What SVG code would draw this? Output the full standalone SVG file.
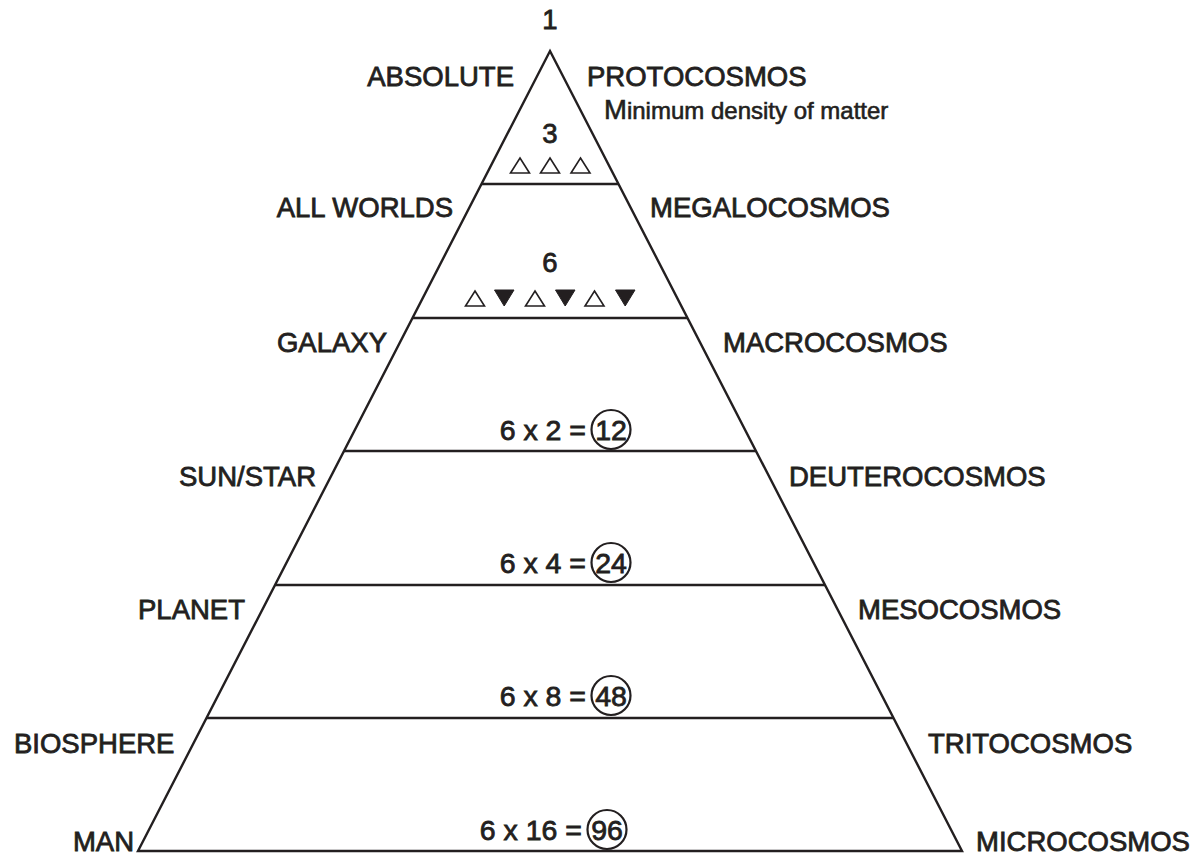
<svg xmlns="http://www.w3.org/2000/svg" width="1202" height="861" viewBox="0 0 1202 861">
<style>
text{font-family:"Liberation Sans",Arial,sans-serif;fill:#231f20;stroke:#231f20;stroke-width:0.8;font-size:27.5px}
.eq{font-size:28.5px}
.c{text-anchor:middle}
.e{text-anchor:end}
.ln{stroke:#231f20;stroke-width:2.4;fill:none}
.ring{stroke:#231f20;stroke-width:2.2;fill:none}
.up{fill:none;stroke:#231f20;stroke-width:1.6;stroke-linejoin:miter}
.dn{fill:#231f20;stroke:#231f20;stroke-width:1}
</style>
<rect width="1202" height="861" fill="#fff"/>
<g id="pyramid">
<polygon class="ln" points="550,51 962,851 138,851" stroke-linejoin="miter"/>
</g>
<g id="connectors">
<line class="ln" x1="481.5" y1="184" x2="618.5" y2="184"/>
<line class="ln" x1="412.5" y1="318" x2="687.5" y2="318"/>
<line class="ln" x1="344" y1="451" x2="756" y2="451"/>
<line class="ln" x1="275" y1="585" x2="825" y2="585"/>
<line class="ln" x1="206" y1="718" x2="894" y2="718"/>
</g>
<g id="level1">
<text class="c" x="550" y="29">1</text>
<text class="e" x="514" y="86">ABSOLUTE</text>
<text x="587" y="86">PROTOCOSMOS</text>
<text x="604" y="119" style="font-size:24px;stroke-width:0.6"><tspan style="font-size:27.5px">M</tspan>inimum density of matter</text>
</g>
<g id="level3">
<text class="c" x="550" y="143">3</text>
<polygon class="up" points="520,158 529.5,173 510.5,173"/>
<polygon class="up" points="550,158 559.5,173 540.5,173"/>
<polygon class="up" points="580.5,158 590,173 571,173"/>
<text class="e" x="453" y="217">ALL WORLDS</text>
<text x="650" y="217">MEGALOCOSMOS</text>
</g>
<g id="level6">
<text class="c" x="550" y="272">6</text>
<polygon class="up" points="475,291 484.5,306 465.5,306"/>
<polygon class="dn" points="494.5,290 514,290 504.2,306"/>
<polygon class="up" points="535,291 544.5,306 525.5,306"/>
<polygon class="dn" points="555.5,290 575,290 565.2,306"/>
<polygon class="up" points="594.5,291 604,306 585,306"/>
<polygon class="dn" points="615.5,290 635,290 625.2,306"/>
<text class="e" x="387" y="352">GALAXY</text>
<text x="723" y="352">MACROCOSMOS</text>
</g>
<g id="level12">
<text class="eq e" x="586" y="440">6 x 2 =</text>
<circle class="ring" cx="611" cy="429.5" r="19.5"/>
<text class="eq c" x="611" y="440">12</text>
<text class="e" x="316" y="486">SUN/STAR</text>
<text x="789" y="486">DEUTEROCOSMOS</text>
</g>
<g id="level24">
<text class="eq e" x="586" y="573">6 x 4 =</text>
<circle class="ring" cx="611" cy="562.5" r="19.5"/>
<text class="eq c" x="611" y="573">24</text>
<text x="138" y="619">PLANET</text>
<text x="858" y="619">MESOCOSMOS</text>
</g>
<g id="level48">
<text class="eq e" x="586" y="706">6 x 8 =</text>
<circle class="ring" cx="611" cy="695.5" r="19.5"/>
<text class="eq c" x="611" y="706">48</text>
<text x="14" y="753">BIOSPHERE</text>
<text x="928" y="753">TRITOCOSMOS</text>
</g>
<g id="level96">
<text class="eq e" x="582" y="840">6 x 16 =</text>
<circle class="ring" cx="607" cy="829.5" r="19.5"/>
<text class="eq c" x="607" y="840">96</text>
<text class="e" x="134" y="851">MAN</text>
<text x="976" y="851">MICROCOSMOS</text>
</g>
</svg>
